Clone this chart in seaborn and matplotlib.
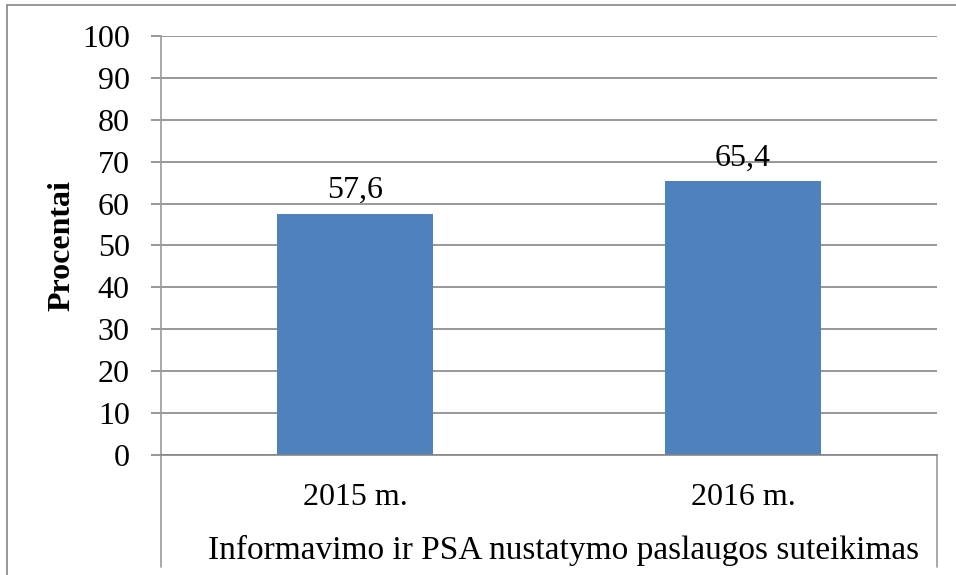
import matplotlib
matplotlib.use("Agg")
import matplotlib.pyplot as plt
import seaborn as sns
import pandas as pd
from matplotlib.lines import Line2D

categories = ["2015 m.", "2016 m."]
values = [57.6, 65.4]
value_labels = ["57,6", "65,4"]
y_ticks = [0, 10, 20, 30, 40, 50, 60, 70, 80, 90, 100]

sns.set_theme(style="white")
plt.rcParams['font.family'] = ['Liberation Serif', 'DejaVu Serif']

df = pd.DataFrame({"cat": categories, "val": values})

fig = plt.figure(figsize=(9.56, 5.75), dpi=100)
ax = fig.add_axes([161/956, 1 - 455/575, (937 - 161)/956, (455 - 36)/575])

sns.barplot(data=df, x="cat", y="val", color="#4F81BD", width=0.4, ax=ax,
            saturation=1, edgecolor="none")

grid_c = "#868686"
ax.set_ylim(0, 100)
ax.set_xlim(-0.5, 1.5)
ax.set_yticks(y_ticks)
ax.set_yticklabels([str(t) for t in y_ticks], fontsize=23)
ax.yaxis.grid(True, color=grid_c, linewidth=1.2)
ax.set_axisbelow(True)
for s in ["top", "right"]:
    ax.spines[s].set_visible(False)
ax.spines["left"].set_color("#9a9a9a")
ax.spines["left"].set_linewidth(1.2)
ax.spines["bottom"].set_color(grid_c)
ax.spines["bottom"].set_linewidth(1.2)
ax.tick_params(axis="y", which="both", left=True, length=7.5, width=1.2,
               color=grid_c, pad=15, labelsize=23, labelcolor="black")
ax.tick_params(axis="x", bottom=False, labelsize=23, pad=14, labelcolor="black")
ax.set_xlabel("Informavimo ir PSA nustatymo paslaugos suteikimas", fontsize=24,
              labelpad=17, color="black")
ax.xaxis.label.set_x(0.5 + 15/776)
ax.set_ylabel("Procentai", fontsize=23, fontweight="bold", labelpad=4, color="black")

for i, (v, lab) in enumerate(zip(values, value_labels)):
    ax.annotate(lab, xy=(i, v), xytext=(0, 6), textcoords="offset points",
                ha="center", va="bottom", fontsize=23, color="black")

# category boundary lines extending below the axis
for xa in [0, 1]:
    ax.add_line(Line2D([xa, xa], [0, -112/419], transform=ax.transAxes,
                       color="#9a9a9a", linewidth=1.2, clip_on=False))

# outer chart border
fig.add_artist(Line2D([7/956, 7/956], [0, 1 - 5/575], transform=fig.transFigure,
                      color="#868686", linewidth=1.2))
fig.add_artist(Line2D([7/956, 1], [1 - 5/575, 1 - 5/575], transform=fig.transFigure,
                      color="#868686", linewidth=1.2))

fig.savefig("out.png", dpi=100)
